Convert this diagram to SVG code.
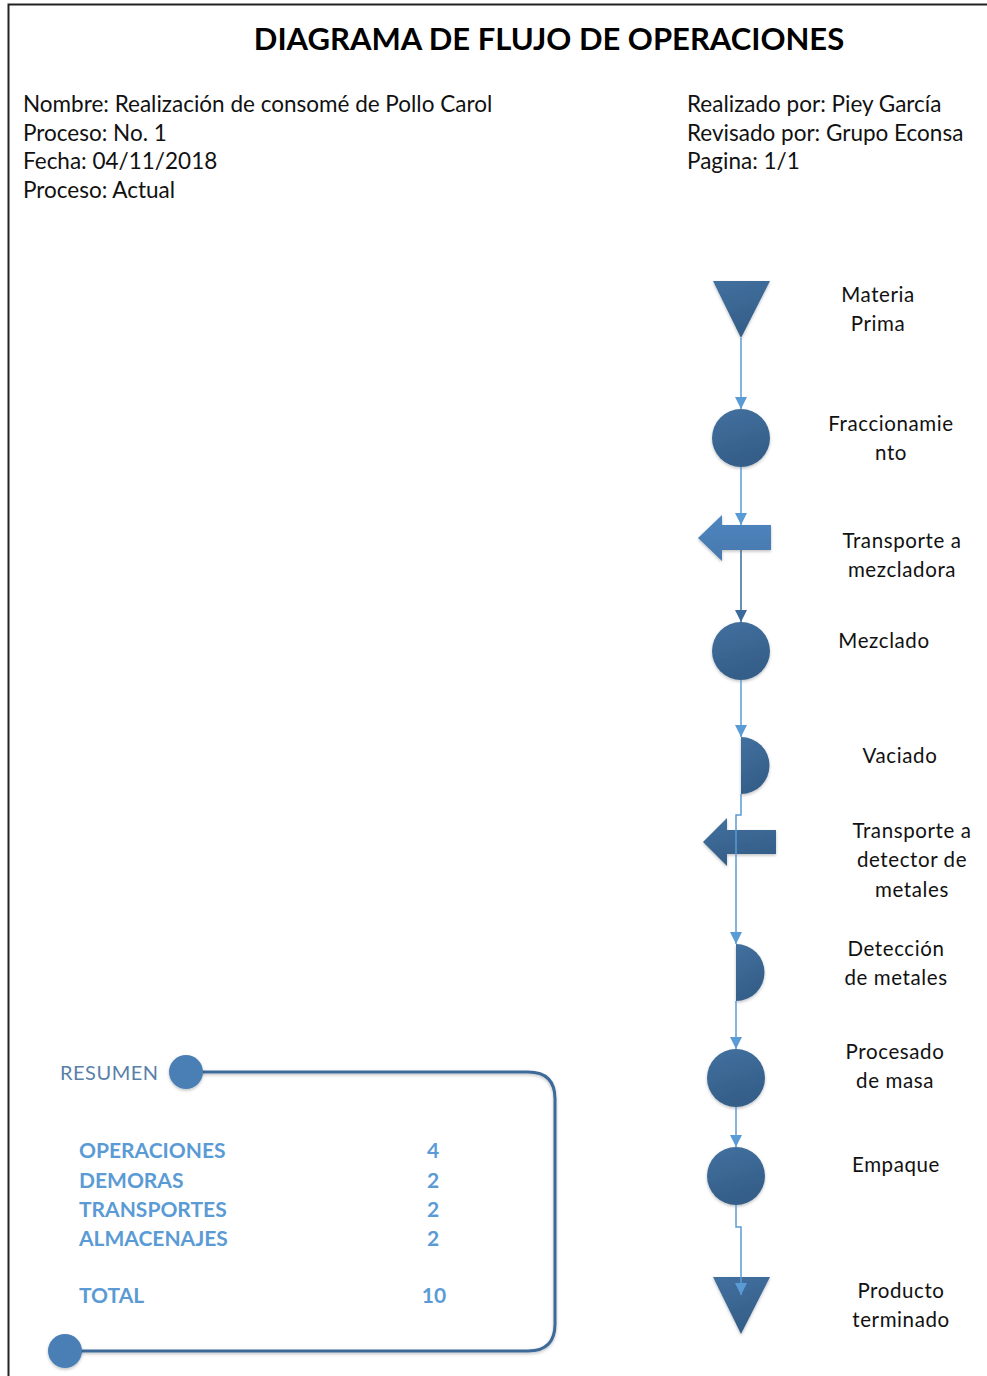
<svg xmlns="http://www.w3.org/2000/svg" width="987" height="1376" viewBox="0 0 987 1376">
  <style>
    .hdr { font-family: Lato, "Open Sans", "Liberation Sans", sans-serif; font-size: 22.5px; fill: #111; }
    .title { font-family: Lato, "Open Sans", "Liberation Sans", sans-serif; font-size: 31px; font-weight: bold; fill: #000; text-anchor: middle; }
    .lbl { font-family: Lato, "Open Sans", "Liberation Sans", sans-serif; font-size: 20.5px; fill: #111; text-anchor: middle; letter-spacing: 0.6px; }
    .sum { font-family: Lato, "Open Sans", "Liberation Sans", sans-serif; font-size: 21px; font-weight: bold; fill: #5b9bd5; }
    .num { text-anchor: middle; }
    .res { font-family: Lato, "Open Sans", "Liberation Sans", sans-serif; font-size: 20px; fill: #5a7fa8; letter-spacing: 0.5px; }
    .shape { fill: url(#shapeGrad); filter: url(#soft); }
    .flow { fill: none; stroke: #5b9bd5; stroke-width: 1.5; }
    .flowDark { fill: none; stroke: #3a6a9a; stroke-width: 1.5; }
    .frame { fill: none; stroke: #222; stroke-width: 2; }
    .loop { fill: none; stroke: #3d6a99; stroke-width: 3; filter: url(#soft); }
    .dot { fill: #4a7fb5; filter: url(#soft); }
  </style>
  <defs>
    <linearGradient id="shapeGrad" x1="0" y1="0" x2="0.3" y2="1">
      <stop offset="0" stop-color="#42709f"/>
      <stop offset="1" stop-color="#345e88"/>
    </linearGradient>
    <linearGradient id="arrowGradLight" x1="0" y1="0" x2="0" y2="1">
      <stop offset="0" stop-color="#4f86c0"/>
      <stop offset="1" stop-color="#4778ad"/>
    </linearGradient>
    <filter id="soft" x="-20%" y="-20%" width="140%" height="140%">
      <feDropShadow dx="0" dy="1.5" stdDeviation="1.5" flood-color="#000" flood-opacity="0.25"/>
    </filter>
    <!-- arrowheads drawn pointing along +x; orient="auto" turns them down the line -->
    <marker id="ah" markerWidth="14" markerHeight="14" viewBox="0 0 14 14" refX="13" refY="7" orient="auto" markerUnits="userSpaceOnUse">
      <path d="M1,1 L13,7 L1,13 Z" fill="#5b9bd5"/>
    </marker>
    <marker id="ahDark" markerWidth="14" markerHeight="14" viewBox="0 0 14 14" refX="13" refY="7" orient="auto" markerUnits="userSpaceOnUse">
      <path d="M1,1 L13,7 L1,13 Z" fill="#3a6a9a"/>
    </marker>
  </defs>

  <rect width="987" height="1376" fill="#fff"/>
  <!-- page frame -->
  <path class="frame" d="M8.5,1376 L8.5,4.5 L987,4.5"/>

  <text class="title" x="549" y="50">DIAGRAMA DE FLUJO DE OPERACIONES</text>

  <g id="header-left">
    <text class="hdr" x="23" y="112">Nombre: Realización de consomé de Pollo Carol</text>
    <text class="hdr" x="23" y="141">Proceso: No. 1</text>
    <text class="hdr" x="23" y="169">Fecha: 04/11/2018</text>
    <text class="hdr" x="23" y="198">Proceso: Actual</text>
  </g>
  <g id="header-right">
    <text class="hdr" x="687" y="112">Realizado por: Piey García</text>
    <text class="hdr" x="687" y="141">Revisado por: Grupo Econsa</text>
    <text class="hdr" x="687" y="169">Pagina: 1/1</text>
  </g>

  <!-- process steps -->
  <g id="materia-prima">
    <path class="shape" d="M713,281 L770,281 L741,338 Z"/>
    <text class="lbl" x="878" y="302">Materia</text>
    <text class="lbl" x="878" y="331">Prima</text>
  </g>
  <g id="fraccionamiento">
    <circle class="shape" cx="741" cy="438" r="29"/>
    <text class="lbl" x="891" y="431">Fraccionamie</text>
    <text class="lbl" x="891" y="460">nto</text>
  </g>
  <g id="transporte-mezcladora">
    <path d="M698,538 L722,515 L722,525 L771,525 L771,550 L722,550 L722,561 Z" fill="url(#arrowGradLight)" filter="url(#soft)"/>
    <text class="lbl" x="902" y="548">Transporte a</text>
    <text class="lbl" x="902" y="577">mezcladora</text>
  </g>
  <g id="mezclado">
    <circle class="shape" cx="741" cy="651" r="29"/>
    <text class="lbl" x="884" y="648">Mezclado</text>
  </g>
  <g id="vaciado">
    <path class="shape" d="M741,737 A28.5,28.5 0 0 1 741,794 Z"/>
    <text class="lbl" x="900" y="763">Vaciado</text>
  </g>
  <g id="transporte-detector">
    <path class="shape" d="M703,842 L727,818 L727,830 L776,830 L776,854 L727,854 L727,866 Z"/>
    <text class="lbl" x="912" y="838">Transporte a</text>
    <text class="lbl" x="912" y="867">detector de</text>
    <text class="lbl" x="912" y="897">metales</text>
  </g>
  <g id="deteccion-metales">
    <path class="shape" d="M736,944 A28.5,28.5 0 0 1 736,1001 Z"/>
    <text class="lbl" x="896" y="956">Detección</text>
    <text class="lbl" x="896" y="985">de metales</text>
  </g>
  <g id="procesado-masa">
    <circle class="shape" cx="736" cy="1078" r="29"/>
    <text class="lbl" x="895" y="1059">Procesado</text>
    <text class="lbl" x="895" y="1088">de masa</text>
  </g>
  <g id="empaque">
    <circle class="shape" cx="736" cy="1176" r="29"/>
    <text class="lbl" x="896" y="1172">Empaque</text>
  </g>
  <g id="producto-terminado">
    <path class="shape" d="M713,1277 L770,1277 L741,1334 Z"/>
    <text class="lbl" x="901" y="1298">Producto</text>
    <text class="lbl" x="901" y="1327">terminado</text>
  </g>

  <!-- connectors (drawn over the shapes, as the lines run through the arrows) -->
  <g id="connectors">
    <path class="flow" d="M741,338 L741,409" marker-end="url(#ah)"/>
    <path class="flow" d="M741,467 L741,525" marker-end="url(#ah)"/>
    <path class="flowDark" d="M741,550 L741,622" marker-end="url(#ahDark)"/>
    <path class="flow" d="M741,680 L741,737" marker-end="url(#ah)"/>
    <path class="flow" d="M741,794 L741,815 L736,815 L736,944" marker-end="url(#ah)"/>
    <path class="flow" d="M736,1001 L736,1049" marker-end="url(#ah)"/>
    <path class="flow" d="M736,1107 L736,1147" marker-end="url(#ah)"/>
    <path class="flow" d="M736,1205 L736,1227 L741,1227 L741,1295" marker-end="url(#ah)"/>
  </g>

  <!-- summary -->
  <g id="resumen">
    <path class="loop" d="M186,1072 L528,1072 Q555,1072 555,1099 L555,1324 Q555,1351 528,1351 L65,1351"/>
    <circle class="dot" cx="186" cy="1072" r="17"/>
    <circle class="dot" cx="65" cy="1351" r="17"/>
    <text class="res" x="60" y="1080">RESUMEN</text>
    <text class="sum" x="79" y="1158">OPERACIONES</text>
    <text class="sum" x="79" y="1188">DEMORAS</text>
    <text class="sum" x="79" y="1217">TRANSPORTES</text>
    <text class="sum" x="79" y="1246">ALMACENAJES</text>
    <text class="sum" x="79" y="1303">TOTAL</text>
    <text class="sum num" x="433" y="1158">4</text>
    <text class="sum num" x="433" y="1188">2</text>
    <text class="sum num" x="433" y="1217">2</text>
    <text class="sum num" x="433" y="1246">2</text>
    <text class="sum num" x="434" y="1303">10</text>
  </g>
</svg>
